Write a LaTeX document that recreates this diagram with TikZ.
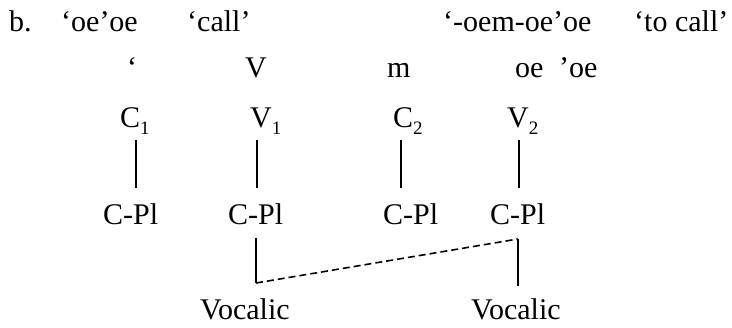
\documentclass[tikz,border=0pt]{standalone}
\usepackage{fontspec}
\setmainfont{Liberation Serif}
\begin{document}
\begin{tikzpicture}[x=1pt,y=1pt,
  txt/.style={inner sep=0pt,anchor=base west,font=\fontsize{30}{33}\selectfont},
  tree/.style={line width=1.6pt},
  assoc/.style={line width=1.6pt,dash pattern=on 7pt off 4pt}]
\useasboundingbox (0,0) rectangle (732,-328);
\newcommand{\sbs}[1]{\raisebox{-0.22em}{\fontsize{19}{19}\selectfont #1}}
% row 1
\node[txt] (b) at (9,-32) {b.};
\node[txt] (w1) at (61,-32) {‘oe’oe};
\node[txt] (g1) at (187,-32) {‘call’};
\node[txt] (w2) at (443,-32) {‘-oem-oe’oe};
\node[txt] (g2) at (634,-32) {‘to call’};
% row 2
\node[txt] (s1) at (127,-78) {‘};
\node[txt] (s2) at (245,-78) {V};
\node[txt] (s3) at (387,-78) {m};
\node[txt] (s4) at (515,-78) {oe};
\node[txt] (s5) at (559,-78) {’oe};
% row 3
\node[txt] (C1) at (120,-128) {C\sbs{1}};
\node[txt] (V1) at (250,-128) {V\sbs{1}};
\node[txt] (C2) at (393,-128) {C\sbs{2}};
\node[txt] (V2) at (507,-128) {V\sbs{2}};
% C-Pl row
\node[txt] (P1) at (103,-225) {C-Pl};
\node[txt] (P2) at (228,-225) {C-Pl};
\node[txt] (P3) at (383,-225) {C-Pl};
\node[txt] (P4) at (490,-225) {C-Pl};
% Vocalic row
\node[txt] (Voc1) at (200,-320) {Vocalic};
\node[txt] (Voc2) at (471,-320) {Vocalic};
% connector ends
\coordinate (a1) at (136,-140); \coordinate (b1) at (136,-188);
\coordinate (a2) at (257,-140); \coordinate (b2) at (257,-188);
\coordinate (a3) at (401,-140); \coordinate (b3) at (401,-188);
\coordinate (a4) at (519,-140); \coordinate (b4) at (519,-188);
\coordinate (c2) at (256,-238); \coordinate (d2) at (256,-283);
\coordinate (c4) at (518,-239); \coordinate (d4) at (518,-286);
\draw[tree] (a1) -- (b1);
\draw[tree] (a2) -- (b2);
\draw[tree] (a3) -- (b3);
\draw[tree] (a4) -- (b4);
\draw[tree] (c2) -- (d2);
\draw[tree] (c4) -- (d4);
\draw[assoc] (d2) -- (c4);
\end{tikzpicture}
\end{document}
